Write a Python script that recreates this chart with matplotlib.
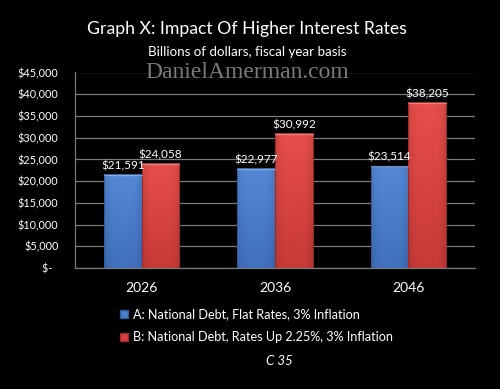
import matplotlib
matplotlib.use("Agg")
import matplotlib.pyplot as plt
import numpy as np
from matplotlib.patches import Patch

categories = ["2026", "2036", "2046"]
series_a = [21591, 22977, 23514]
series_b = [24058, 30992, 38205]
label_a = "A: National Debt, Flat Rates, 3% Inflation"
label_b = "B: National Debt, Rates Up 2.25%, 3% Inflation"
yticks = [0, 5000, 10000, 15000, 20000, 25000, 30000, 35000, 40000, 45000]
ytick_labels = ["$-  ", "$5,000", "$10,000", "$15,000", "$20,000", "$25,000",
                "$30,000", "$35,000", "$40,000", "$45,000"]

plt.rcParams['font.family'] = ['Lato', 'DejaVu Sans']

W, H = 500, 389
fig = plt.figure(figsize=(W/100, H/100), dpi=100, facecolor='black')
ax = fig.add_axes([75/W, 1-268/H, 400/W, (268-72.5)/H])
ax.set_facecolor('black')

x = np.arange(len(categories))
bw = 0.283

def bar_image(top_rgb, bot_rgb, n=64):
    t = np.linspace(0, 1, n).reshape(-1, 1)  # 0 bottom, 1 top
    top = np.array(top_rgb)/255.0
    bot = np.array(bot_rgb)/255.0
    col = bot[None, None, :] * (1 - t[..., None]) + top[None, None, :] * t[..., None]
    col = np.repeat(col, n, axis=1)
    u = np.linspace(-1, 1, n)
    shade = 1 - 0.12 * np.abs(u) ** 4
    col = col * shade[None, :, None]
    return np.clip(col, 0, 1)

def draw_bars(xs, vals, top_rgb, bot_rgb, edge):
    bars = ax.bar(xs, vals, bw, color='none', edgecolor=edge, linewidth=0.7, zorder=3)
    img = bar_image(top_rgb, bot_rgb)
    for b in bars:
        x0, y0 = b.get_x(), b.get_y()
        w, h = b.get_width(), b.get_height()
        im = ax.imshow(img, extent=[x0, x0+w, y0, y0+h], aspect='auto',
                       zorder=2.5, origin='lower', interpolation='bilinear')
        im.set_clip_path(b)
        ax.plot([x0, x0+w], [y0+h-150, y0+h-150], color='white', alpha=0.3, lw=1.0, zorder=3.5)
    return bars

draw_bars(x - bw/2, series_a, (84, 136, 214), (64, 112, 190), '#2f5a9a')
draw_bars(x + bw/2, series_b, (230, 78, 74), (200, 58, 56), '#9a2a28')

for xi, v in zip(x - bw/2, series_a):
    ax.text(xi, v + 700, f"${v:,}", ha='center', va='bottom', color='white', fontsize=8.5, zorder=5)
for xi, v in zip(x + bw/2, series_b):
    ax.text(xi, v + 700, f"${v:,}", ha='center', va='bottom', color='white', fontsize=8.5, zorder=5)

ax.set_xlim(-0.5, 2.5)
ax.set_ylim(0, 45000)
ax.set_yticks(yticks)
ax.set_yticklabels(ytick_labels, color='white', fontsize=7.8)
ax.set_xticks(x)
ax.set_xticklabels(categories, color='white', fontsize=10)
ax.tick_params(axis='y', length=0, pad=12)
ax.tick_params(axis='x', length=0, pad=10)
ax.yaxis.grid(True, color='#7a7a7a', lw=0.9, zorder=1)
ax.set_axisbelow(True)
for s in ['top', 'right']:
    ax.spines[s].set_visible(False)
ax.spines['left'].set_color('#7a7a7a')
ax.spines['bottom'].set_color('#7a7a7a')
ax.spines['left'].set_linewidth(0.9)
ax.spines['bottom'].set_linewidth(0.9)

handles = [Patch(facecolor='#4a7ecb', edgecolor='#2f5a9a', label=label_a),
           Patch(facecolor='#d9403d', edgecolor='#9a2a28', label=label_b)]
fig.legend(handles=handles, loc='upper left', bbox_to_anchor=(114/W, 1-302/H),
           frameon=False, fontsize=9.1, labelcolor='white', handlelength=0.6,
           handleheight=0.6, handletextpad=0.4, labelspacing=0.85, borderpad=0)

fig.text(247/W, 1-29/H, "Graph X: Impact Of Higher Interest Rates", ha='center', va='center',
         color='white', fontsize=12.7)
fig.text(247/W, 1-52/H, "Billions of dollars, fiscal year basis", ha='center', va='center',
         color='white', fontsize=9.6)
fig.text(247/W, 1-72/H, "DanielAmerman.com", ha='center', va='center',
         color='#7a7a7a', fontsize=17, family=['Liberation Serif'], zorder=10)
fig.text(279/W, 1-361/H, "C 35", ha='center', va='center', color='white',
         fontsize=9.5, style='italic')

fig.savefig("out.png", dpi=100, facecolor='black')
